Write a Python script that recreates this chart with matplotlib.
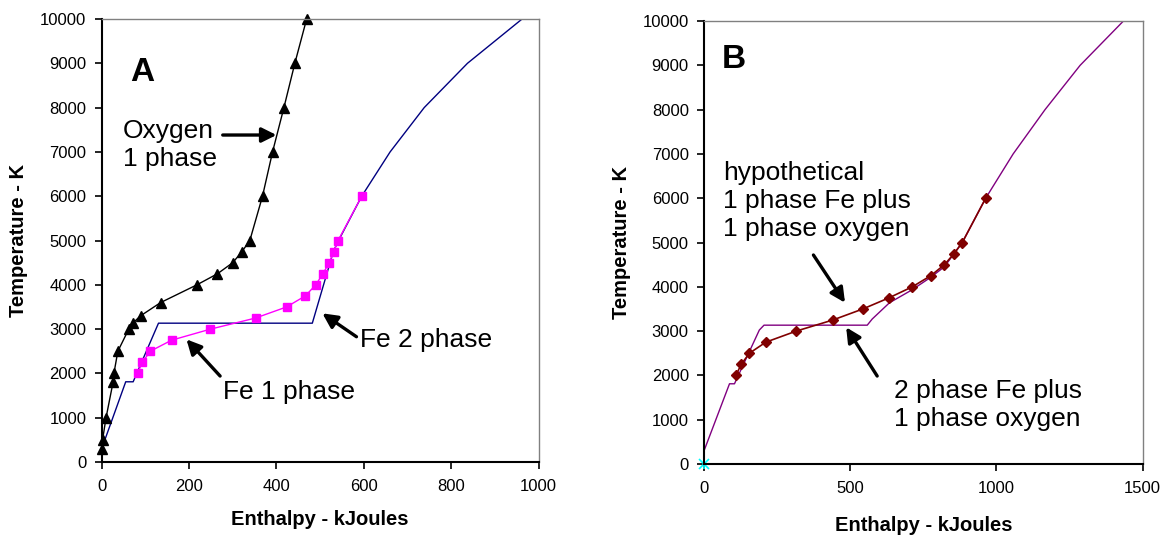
import matplotlib
matplotlib.use("Agg")
import matplotlib.pyplot as plt

plt.rcParams["font.family"] = ["Liberation Sans", "DejaVu Sans"]

# Panel A: oxygen (1 phase), Fe 1 phase, Fe 2 phase
oxy_H = [0, 2, 10, 26, 28, 37, 62, 71, 89, 135, 218, 265, 300, 321, 339, 368, 391, 417, 442, 469]
oxy_T = [300, 500, 1000, 1800, 2000, 2500, 3000, 3134, 3300, 3600, 4000, 4250, 4500, 4750, 5000,
         6000, 7000, 8000, 9000, 10000]

fe1_H = [82, 93, 111, 160, 249, 352, 423, 466, 490, 506, 521, 531, 541, 595]
fe1_T = [2000, 2250, 2500, 2750, 3000, 3250, 3500, 3750, 4000, 4250, 4500, 4750, 5000, 6000]

fe2_H = [0, 55, 72, 130, 482, 530, 542, 595, 660, 738, 837, 962]
fe2_T = [300, 1811, 1811, 3134, 3134, 4750, 5000, 6000, 7000, 8000, 9000, 10000]

# Panel B: hypothetical 1 phase Fe + oxygen, 2 phase Fe + oxygen
hyp_H = [109, 127, 155, 211, 315, 440, 543, 632, 712, 775, 822, 855, 883, 963]
hyp_T = [2000, 2250, 2500, 2750, 3000, 3250, 3500, 3750, 4000, 4250, 4500, 4750, 5000, 6000]

two_H = [0, 87, 104, 189, 205, 558, 575, 634, 710, 775, 822, 855, 883, 963, 1057, 1166, 1286, 1434]
two_T = [300, 1811, 1811, 3024, 3134, 3134, 3273, 3640, 3927, 4214, 4453, 4750, 5000, 6000,
         7000, 8000, 9000, 10000]

fig = plt.figure(figsize=(11.62, 5.35), dpi=100)
axA = fig.add_axes([0.0875, 0.1364, 0.3761, 0.8281])
axB = fig.add_axes([0.6059, 0.1327, 0.3775, 0.8280])

arrow = dict(arrowstyle="-|>", color="black", lw=2.4, mutation_scale=22, shrinkA=0, shrinkB=0)
txt = 19

# ---- A ----
axA.plot(fe2_H, fe2_T, color="#000080", lw=1)
axA.plot(oxy_H, oxy_T, color="black", lw=1, marker="^", ms=7.5, clip_on=False)
axA.plot(fe1_H, fe1_T, color="#FF00FF", lw=1, marker="s", ms=6, clip_on=False)
axA.set_xlim(0, 1000)
axA.set_xticks(range(0, 1001, 200))

axA.text(65, 8784, "A", fontsize=24, fontweight="bold", va="center", ha="left")
axA.text(48, 7155, "Oxygen\n1 phase", fontsize=txt, va="center", ha="left", linespacing=1.2)
axA.annotate("", xy=(400, 7381), xytext=(277, 7381), arrowprops=arrow)
axA.text(592, 2754, "Fe 2 phase", fontsize=txt, va="center", ha="left")
axA.annotate("", xy=(505, 3356), xytext=(583, 2828), arrowprops=arrow)
axA.text(278, 1587, "Fe 1 phase", fontsize=txt, va="center", ha="left")
axA.annotate("", xy=(194, 2769), xytext=(271, 1941), arrowprops=arrow)

# ---- B ----
axB.plot(two_H, two_T, color="#800080", lw=1)
axB.plot(hyp_H, hyp_T, color="#800000", lw=1.2, marker="D", ms=5)
axB.plot([0], [0], color="#00FFFF", marker="x", ms=7, mew=1.2, ls="none", clip_on=False)
axB.plot([0], [0], color="#00FFFF", marker="|", ms=7, mew=1.2, ls="none", clip_on=False)
axB.set_xlim(0, 1500)
axB.set_xticks(range(0, 1501, 500))

axB.text(60, 9127, "B", fontsize=24, fontweight="bold", va="center", ha="left")
axB.text(64, 5937, "hypothetical\n1 phase Fe plus\n1 phase oxygen", fontsize=txt,
         va="center", ha="left", linespacing=1.2)
axB.annotate("", xy=(482, 3641), xytext=(374, 4718), arrowprops=arrow)
axB.text(650, 1332, "2 phase Fe plus\n1 phase oxygen", fontsize=txt, va="center", ha="left",
         linespacing=1.2)
axB.annotate("", xy=(486, 3086), xytext=(592, 1986), arrowprops=arrow)

for ax, ylx, xly in [(axA, -0.169, -0.108), (axB, -0.166, -0.117)]:
    ax.set_ylim(0, 10000)
    ax.set_yticks(range(0, 10001, 1000))
    ax.set_xlabel("Enthalpy - kJoules", fontsize=14.5, fontweight="bold")
    ax.set_ylabel("Temperature - K", fontsize=14.5, fontweight="bold")
    ax.xaxis.set_label_coords(0.5, xly)
    ax.yaxis.set_label_coords(ylx, 0.5)
    ax.tick_params(direction="out", length=5, width=1.2, labelsize=12)
    ax.tick_params(axis="x", pad=7.5)
    ax.tick_params(axis="y", pad=6)
    for s in ["left", "bottom"]:
        ax.spines[s].set_linewidth(1.5)
        ax.spines[s].set_color("black")
    for s in ["top", "right"]:
        ax.spines[s].set_linewidth(1)
        ax.spines[s].set_color("#808080")

fig.savefig("out.png", dpi=100)
